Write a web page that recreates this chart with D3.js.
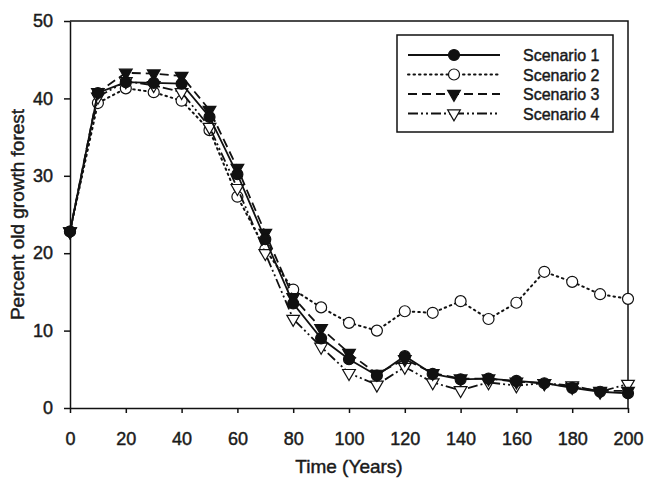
<!DOCTYPE html>
<html>
<head>
<meta charset="utf-8">
<script src="https://cdn.jsdelivr.net/npm/d3@7"></script>
<style>
  html, body { margin: 0; padding: 0; background: #fff; }
  svg { display: block; }
  .axis path, .axis line { stroke: #111; stroke-width: 1.5; }
  .axis text { font-family: "Liberation Sans", Arial, sans-serif; font-size: 18px; fill: #1a1a1a;
    stroke: #1a1a1a; stroke-width: 0.45px; }
  .axislabel, .legtext { font-family: "Liberation Sans", Arial, sans-serif; fill: #1a1a1a;
    stroke: #1a1a1a; stroke-width: 0.45px; }
</style>
</head>
<body>
<svg id="chart"></svg>
<script>
const years = [0, 10, 20, 30, 40, 50, 60, 70, 80, 90, 100, 110, 120, 130, 140, 150, 160, 170, 180, 190, 200];
const scenario1 = [22.8, 40.7, 42.1, 42.0, 41.9, 37.6, 30.2, 21.8, 13.5, 9.0, 6.3, 4.2, 6.7, 4.4, 3.7, 3.8, 3.5, 3.2, 2.6, 2.1, 1.9];
const scenario2 = [22.8, 39.4, 41.3, 40.8, 39.7, 35.9, 27.3, 20.5, 15.3, 13.0, 11.0, 10.0, 12.5, 12.3, 13.8, 11.5, 13.6, 17.6, 16.3, 14.7, 14.1];
const scenario3 = [22.8, 40.8, 43.3, 43.2, 42.9, 38.5, 31.0, 22.6, 14.3, 10.3, 7.1, 4.4, 6.3, 4.5, 3.8, 3.8, 3.4, 3.2, 2.7, 2.2, 2.2];
const scenario4 = [22.8, 40.2, 42.2, 41.7, 40.8, 36.3, 28.4, 20.0, 11.5, 7.9, 4.5, 3.0, 5.3, 3.3, 2.3, 3.3, 2.9, 3.2, 2.9, 2.1, 3.1];
const seriesNames = ['Scenario 1', 'Scenario 2', 'Scenario 3', 'Scenario 4'];
const xTicks = [0, 20, 40, 60, 80, 100, 120, 140, 160, 180, 200];
const yTicks = [0, 10, 20, 30, 40, 50];

const totalW = 645, totalH = 479;
const mg = { top: 21, right: 17, bottom: 71, left: 70 };
const W = totalW - mg.left - mg.right;
const H = totalH - mg.top - mg.bottom;

const svg = d3.select('#chart').attr('width', totalW).attr('height', totalH);
const g = svg.append('g').attr('transform', `translate(${mg.left},${mg.top})`);

const x = d3.scaleLinear().domain([0, 200]).range([0, W]);
const y = d3.scaleLinear().domain([0, 50]).range([H, 0]);

// frame (top + right)
g.append('path').attr('d', `M0,0H${W}V${H}`).attr('fill', 'none')
  .attr('stroke', '#111').attr('stroke-width', 1.5);

g.append('g').attr('class', 'axis').attr('transform', `translate(0,${H})`)
  .call(d3.axisBottom(x).tickValues(xTicks).tickSize(5).tickPadding(19).tickSizeOuter(0));
g.append('g').attr('class', 'axis')
  .call(d3.axisLeft(y).tickValues(yTicks).tickSize(6).tickPadding(11).tickSizeOuter(0));

g.append('text').attr('class', 'axislabel').attr('x', W / 2).attr('y', H + 65)
  .attr('text-anchor', 'middle').attr('font-size', 19).text('Time (Years)');
g.append('text').attr('class', 'axislabel')
  .attr('transform', `translate(-46,${H / 2}) rotate(-90)`)
  .attr('text-anchor', 'middle').attr('font-size', 19).text('Percent old growth forest');

const styles = [
  { data: scenario1, dash: null, marker: 'circle', fill: '#111' },
  { data: scenario2, dash: '1.5,4', marker: 'circle', fill: '#fff' },
  { data: scenario3, dash: '9,5', marker: 'tri', fill: '#111' },
  { data: scenario4, dash: '10,3,2,3,2,3', marker: 'tri', fill: '#fff' }
];

const line = d3.line().x((d, i) => x(years[i])).y((d) => y(d));
const triSym = d3.symbol().type(d3.symbolTriangle).size(70);

function drawMarker(sel, s) {
  if (s.marker === 'circle') {
    sel.append('circle').attr('r', 5.5).attr('fill', s.fill)
      .attr('stroke', '#111').attr('stroke-width', 1.2);
  } else {
    sel.append('path').attr('d', triSym).attr('transform', 'rotate(180)')
      .attr('fill', s.fill).attr('stroke', '#111').attr('stroke-width', 1.2);
  }
}

// draw series back to front
[1, 3, 2, 0].forEach((k) => {
  const s = styles[k];
  g.append('path').datum(s.data).attr('d', line).attr('fill', 'none')
    .attr('stroke', '#111').attr('stroke-width', k === 1 ? 2 : 1.8)
    .attr('stroke-linecap', k === 1 ? 'round' : 'butt')
    .attr('stroke-dasharray', s.dash);
  g.selectAll(null).data(s.data).enter().append('g')
    .attr('transform', (d, i) => `translate(${x(years[i])},${y(d)})`)
    .each(function () { drawMarker(d3.select(this), s); });
});

// legend
const leg = svg.append('g').attr('transform', 'translate(397,35)');
leg.append('rect').attr('width', 216).attr('height', 97).attr('fill', '#fff')
  .attr('stroke', '#111').attr('stroke-width', 1.5);
styles.forEach((s, k) => {
  const ly = 20 + k * 19.5;
  leg.append('line').attr('x1', 11).attr('x2', 103).attr('y1', ly).attr('y2', ly)
    .attr('stroke', '#111').attr('stroke-width', k === 1 ? 2 : 1.8)
    .attr('stroke-linecap', k === 1 ? 'round' : 'butt')
    .attr('stroke-dasharray', s.dash);
  drawMarker(leg.append('g').attr('transform', `translate(57,${ly})`), s);
  leg.append('text').attr('class', 'legtext').attr('x', 126).attr('y', ly + 6)
    .attr('font-size', 16).text(seriesNames[k]);
});
</script>
</body>
</html>
